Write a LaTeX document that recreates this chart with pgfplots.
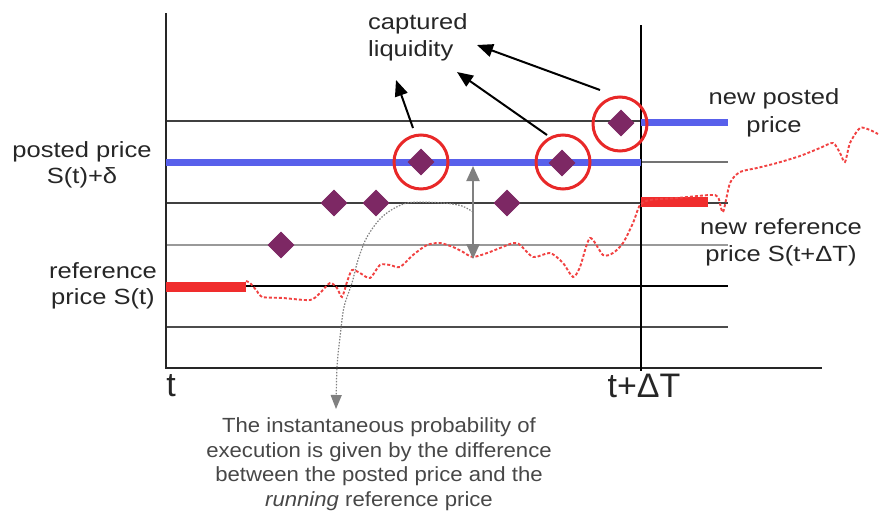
\documentclass[border=0pt]{standalone}
\usepackage{pgfplots}
\pgfplotsset{compat=1.18}
\usetikzlibrary{arrows.meta}
\usepackage{fontspec}
\setmainfont{Liberation Sans}
\newfontfamily\labfont[FakeStretch=1.16]{Liberation Sans}
\newfontfamily\botfont[FakeStretch=1.08]{Liberation Sans}
\definecolor{pblue}{RGB}{88,96,235}
\definecolor{pred}{RGB}{240,45,45}
\definecolor{cred}{RGB}{232,40,40}
\definecolor{purp}{RGB}{125,40,100}
\definecolor{agray}{RGB}{128,128,128}
\definecolor{txt}{RGB}{38,38,38}
\begin{document}
\begin{tikzpicture}
\begin{axis}[scale only axis, width=880pt, height=510pt,
  xmin=0, xmax=880, ymin=0, ymax=510, y dir=reverse,
  hide axis, clip=false]
\path (rel axis cs:0,0) rectangle (rel axis cs:1,1);
% grid lines
\addplot[black!75, line width=1.3pt] coordinates {(166,121) (641,121)};
\addplot[black!55, line width=1.3pt] coordinates {(641,162) (728,162)};
\addplot[black!75, line width=1.3pt] coordinates {(166,203) (728,203)};
\addplot[black!40, line width=1.3pt] coordinates {(166,245) (728,245)};
\addplot[black, line width=1.3pt] coordinates {(166,286) (728,286)};
\addplot[black!70, line width=1.3pt] coordinates {(166,327) (728,327)};
% axes
\addplot[black!85, line width=1.5pt] coordinates {(166,13) (166,368) (822,368)};
\addplot[black, line width=1.3pt] coordinates {(641,25) (641,371)};
% posted prices
\addplot[pblue, line width=7pt] coordinates {(166,162) (641,162)};
\addplot[pblue, line width=7pt] coordinates {(641,122) (728,122)};
% reference prices
\addplot[pred, line width=10pt] coordinates {(166,287) (246,287)};
\addplot[pred, line width=10pt] coordinates {(641,202) (708,202)};
% running reference price
\addplot[pred!90, line width=1.9pt, dash pattern=on 3pt off 2pt, smooth, tension=0.45] coordinates {
(246,281) (250,283) (257,291) (262,297) (283,298) (310,300) (320,293) (330,283)
(337,288) (342,297) (347,282) (352,270) (360,273) (370,278) (380,265) (390,265)
(400,267) (413,255) (427,245) (440,243) (453,247) (463,252) (473,257) (490,252)
(500,248) (517,243) (533,257) (550,253) (563,263) (573,277) (580,267) (590,238)
(603,255) (613,253) (623,243) (633,223) (640,205) (650,200) (677,198) (710,195)
(718,197) (723,212) (730,183) (740,172) (757,168) (777,163) (800,156) (820,148)
(833,143) (840,153) (845,162) (850,143) (860,128) (870,130) (878,134)};
% gray dotted curve
\addplot[agray, line width=1.2pt, dash pattern=on 1.5pt off 1.5pt, smooth, tension=0.5,
  -{Triangle[length=14pt,width=11pt]}] coordinates {
(473,212) (462,206) (443,203) (407,203) (383,216) (367,237) (358,260) (352,283)
(344,307) (340,337) (337,367) (336,409)};
% double arrow
\addplot[agray, line width=2pt, {Triangle[length=15pt,width=13pt]}-{Triangle[length=15pt,width=13pt]}]
  coordinates {(473,166) (473,259)};
% diamonds
\addplot[only marks, mark=square*, mark size=9.2pt, mark options={rotate=45, fill=purp, draw=purp}]
  coordinates {(281,245) (334,203) (376,203) (421,162) (507,203) (562,163) (621,123)};
% circles
\addplot[only marks, mark=o, mark size=27pt, mark options={draw=cred, line width=3pt}]
  coordinates {(421,162) (563,162) (620,124)};
% black arrows
\addplot[black, line width=2pt, -{Triangle[length=16pt,width=13pt]}] coordinates {(413,128) (396,80)};
\addplot[black, line width=2pt, -{Triangle[length=16pt,width=13pt]}] coordinates {(547,135) (457,72)};
\addplot[black, line width=2pt, -{Triangle[length=16pt,width=13pt]}] coordinates {(600,90) (477,45)};
% labels
\node[inner sep=0, anchor=west, align=left, text=txt, font=\labfont\fontsize{22}{27}\selectfont]
  at (axis cs:368,37) {captured\\liquidity};
\node[inner sep=0, align=center, text=txt, font=\labfont\fontsize{22}{25.5}\selectfont]
  at (axis cs:82,165) {posted price\\S(t)+δ};
\node[inner sep=0, align=center, text=txt, font=\labfont\fontsize{22}{26}\selectfont]
  at (axis cs:103,286) {reference\\price S(t)};
\node[inner sep=0, align=center, text=txt, font=\labfont\fontsize{22}{28}\selectfont]
  at (axis cs:774,113) {new posted\\price};
\node[inner sep=0, align=center, text=txt, font=\labfont\fontsize{22}{27}\selectfont]
  at (axis cs:781,242) {new reference\\price S(t+ΔT)};
\node[inner sep=0, text=txt, font=\fontsize{34}{34}\selectfont] at (axis cs:171,386) {t};
\node[inner sep=0, text=txt, font=\fontsize{34}{34}\selectfont] at (axis cs:644,386) {t+ΔT};
\node[inner sep=0, align=center, text=black!72, font=\botfont\fontsize{20.5}{24.5}\selectfont]
  at (axis cs:379,464) {The instantaneous probability of\\execution is given by the difference\\between the posted price and the\\\textit{running} reference price};
\end{axis}
\end{tikzpicture}
\end{document}
